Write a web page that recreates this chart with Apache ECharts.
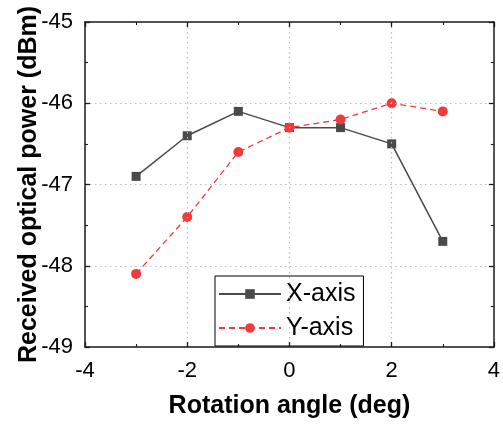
<!DOCTYPE html>
<html>
<head>
<meta charset="utf-8">
<script src="https://cdn.jsdelivr.net/npm/echarts@6/dist/echarts.min.js"></script>
<style>
html,body{margin:0;padding:0;background:#fff;}
#chart{width:503px;height:424px;}
</style>
</head>
<body>
<div id="chart"></div>
<script>
// rotation angle (deg)
var angles = [-3, -2, -1, 0, 1, 2, 3];
// received power (dBm)
var xAxisPower = [-46.9, -46.4, -46.1, -46.3, -46.3, -46.5, -47.7];
var yAxisPower = [-48.1, -47.4, -46.6, -46.3, -46.2, -46.0, -46.1];
var seriesNames = ['X-axis', 'Y-axis'];

var FONT = 'Liberation Sans, Arial, sans-serif';

function pairs(xs, ys){
	var out = [];
	for(var i=0;i<xs.length;i++){
		out.push([xs[i], ys[i]]);
	}
	return out;
}

// 坐标轴公共样式
function axisBase(min, max, interval){
	return {
		type: 'value',
		min: min,
		max: max,
		interval: interval,
		axisLine: {show: true, onZero: false, lineStyle: {color: '#1a1a1a', width: 1.5}},
		axisTick: {show: true, inside: true, length: 5, lineStyle: {color: '#1a1a1a', width: 1.3}},
		minorTick: {show: true, splitNumber: 2, length: 3, lineStyle: {color: '#1a1a1a', width: 1.1}},
		splitLine: {show: false},
		z: 5
	};
}

var gridStyle = {show: true, showMinLine: false, showMaxLine: false,
	lineStyle: {color: '#bdbdbd', type: [1.5, 3.5], width: 1.2}};

var xBottom = axisBase(-4, 4, 2);
xBottom.position = 'bottom';
xBottom.axisLabel = {fontSize: 22, color: '#000', fontFamily: FONT, margin: 13};
xBottom.splitLine = gridStyle;
xBottom.name = 'Rotation angle (deg)';
xBottom.nameLocation = 'middle';
xBottom.nameGap = 47;
xBottom.nameMoveOverlap = false;
xBottom.nameTextStyle = {fontSize: 25, fontWeight: 'bold', color: '#000', fontFamily: FONT};

var xTop = axisBase(-4, 4, 2);
xTop.position = 'top';
xTop.axisLabel = {show: false};

var yLeft = axisBase(-49, -45, 1);
yLeft.position = 'left';
yLeft.axisLabel = {fontSize: 22, color: '#000', fontFamily: FONT, margin: 12};
yLeft.splitLine = gridStyle;
yLeft.name = 'Received optical power (dBm)';
yLeft.nameLocation = 'middle';
yLeft.nameGap = 43;
yLeft.nameMoveOverlap = false;
yLeft.nameTextStyle = {fontSize: 25, fontWeight: 'bold', color: '#000', fontFamily: FONT};

var yRight = axisBase(-49, -45, 1);
yRight.position = 'right';
yRight.axisLabel = {show: false};

var option = {
	animation: false,
	backgroundColor: '#fff',
	grid: {left: 85, right: 5, top: 22, bottom: 77},
	xAxis: [xBottom, xTop],
	yAxis: [yLeft, yRight],
	legend: {
		data: seriesNames,
		orient: 'vertical',
		left: 215,
		top: 276,
		itemWidth: 62,
		itemHeight: 12,
		itemGap: 6,
		padding: [4, 8, 4, 3],
		borderColor: '#000',
		borderWidth: 1,
		backgroundColor: '#fff',
		textStyle: {fontSize: 25, color: '#000', fontFamily: FONT, lineHeight: 28}
	},
	series: [
		{
			name: seriesNames[0],
			type: 'line',
			xAxisIndex: 0,
			yAxisIndex: 0,
			data: pairs(angles, xAxisPower),
			symbol: 'rect',
			symbolSize: 9,
			itemStyle: {color: '#4a4a4a'},
			lineStyle: {color: '#4a4a4a', width: 1.5}
		},
		{
			name: seriesNames[1],
			type: 'line',
			xAxisIndex: 0,
			yAxisIndex: 0,
			data: pairs(angles, yAxisPower),
			symbol: 'circle',
			symbolSize: 10,
			itemStyle: {color: '#ef3b3b'},
			lineStyle: {color: '#ef3b3b', width: 1.3, type: [6, 4]}
		}
	]
};

var myChart = echarts.init(document.getElementById('chart'));
myChart.setOption(option);
</script>
</body>
</html>
